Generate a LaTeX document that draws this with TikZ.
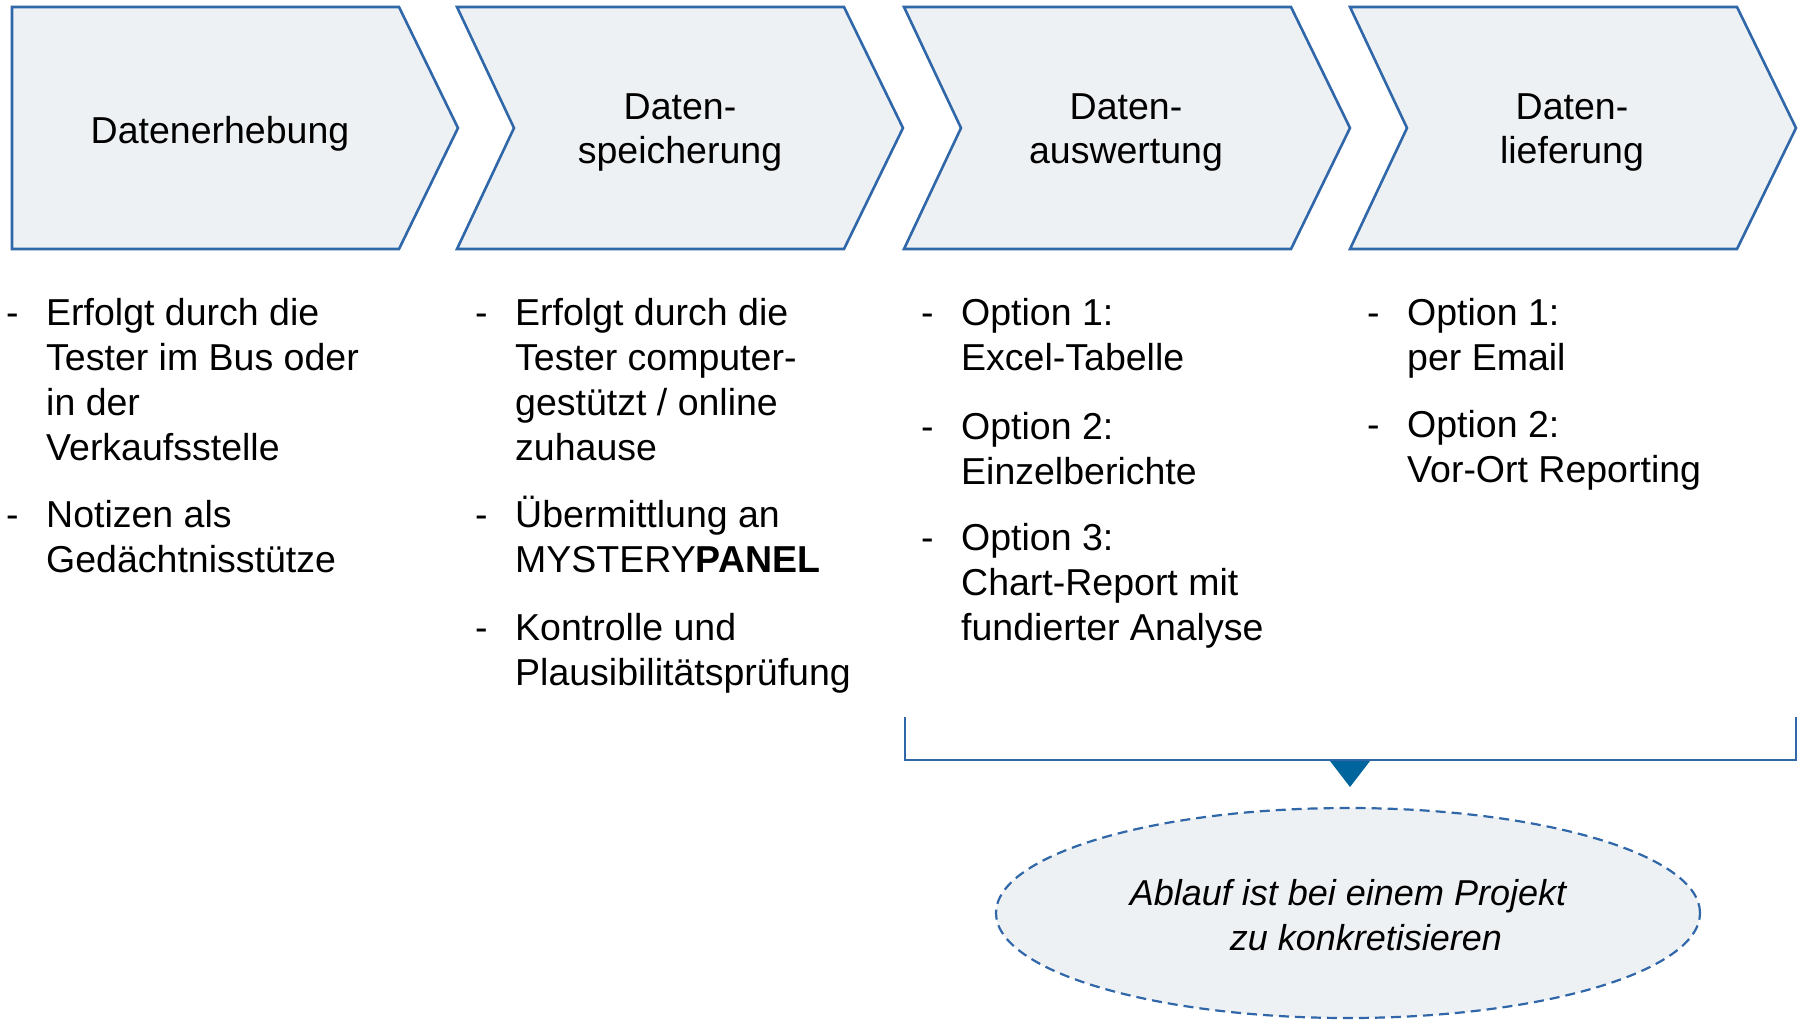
\documentclass[tikz,border=0pt]{standalone}
\usepackage{fontspec}
\setmainfont{Liberation Sans}
\usetikzlibrary{shapes.geometric,calc}
\definecolor{chevblue}{HTML}{2F67A8}
\definecolor{chevfill}{HTML}{EEF1F3}
\definecolor{tricol}{HTML}{00659C}
\newcommand{\itembox}[1]{\parbox[t]{420pt}{\raggedright\fontsize{37.5}{45}\selectfont #1\par}}
\newcommand{\ttlbox}[1]{\parbox[t]{330pt}{\centering\fontsize{37.5}{44}\selectfont #1\par}}
\tikzset{
  chev/.style={draw=chevblue, fill=chevfill, line width=2.6pt, line join=miter},
  body/.style={inner sep=0pt, anchor=base west},
  dashitem/.style={inner sep=0pt, anchor=base west, font=\fontsize{37.5}{45}\selectfont},
  ttl/.style={inner sep=0pt, anchor=base},
  bracketline/.style={draw=chevblue, line width=2.4pt},
  ell/.style={ellipse, draw=chevblue, fill=chevfill, line width=2.2pt, dash pattern=on 10pt off 6pt, minimum width=704pt, minimum height=210pt, inner sep=0pt},
  elltext/.style={inner sep=0pt, anchor=base, font=\fontsize{36}{45}\selectfont\itshape},
}
\begin{document}
\begin{tikzpicture}[x=1pt,y=-1pt]
\useasboundingbox (0,0) rectangle (1805,1020);
% chevrons
\draw[chev] (12,7) -- (399,7) -- (458,128) -- (399,249) -- (12,249) -- cycle;
\draw[chev] (457,7) -- (844,7) -- (903,128) -- (844,249) -- (457,249) -- (514,128) -- cycle;
\draw[chev] (904,7) -- (1291,7) -- (1350,128) -- (1291,249) -- (904,249) -- (961,128) -- cycle;
\draw[chev] (1350,7) -- (1737,7) -- (1796,128) -- (1737,249) -- (1350,249) -- (1407,128) -- cycle;
% titles
\node[ttl] (t1) at (220,143) {\ttlbox{Datenerhebung}};
\node[ttl] (t2) at (680,119) {\ttlbox{Daten-\\speicherung}};
\node[ttl] (t3) at (1126,119) {\ttlbox{Daten-\\auswertung}};
\node[ttl] (t4) at (1572,119) {\ttlbox{Daten-\\lieferung}};
% column 1
\node[dashitem] (d11) at (6,325) {-};
\node[body] (i11) at (46,325) {\itembox{Erfolgt durch die\\Tester im Bus oder\\in der\\Verkaufsstelle}};
\node[dashitem] (d12) at (6,527) {-};
\node[body] (i12) at (46,527) {\itembox{Notizen als\\Gedächtnisstütze}};
% column 2
\node[dashitem] (d21) at (475,325) {-};
\node[body] (i21) at (515,325) {\itembox{Erfolgt durch die\\Tester computer-\\gestützt / online\\zuhause}};
\node[dashitem] (d22) at (475,527) {-};
\node[body] (i22) at (515,527) {\itembox{Übermittlung an\\MYSTERY\textbf{PANEL}}};
\node[dashitem] (d23) at (475,640) {-};
\node[body] (i23) at (515,640) {\itembox{Kontrolle und\\Plausibilitätsprüfung}};
% column 3
\node[dashitem] (d31) at (921,325) {-};
\node[body] (i31) at (961,325) {\itembox{Option 1:\\Excel-Tabelle}};
\node[dashitem] (d32) at (921,439) {-};
\node[body] (i32) at (961,439) {\itembox{Option 2:\\Einzelberichte}};
\node[dashitem] (d33) at (921,550) {-};
\node[body] (i33) at (961,550) {\itembox{Option 3:\\Chart-Report mit\\fundierter Analyse}};
% column 4
\node[dashitem] (d41) at (1367,325) {-};
\node[body] (i41) at (1407,325) {\itembox{Option 1:\\per Email}};
\node[dashitem] (d42) at (1367,437) {-};
\node[body] (i42) at (1407,437) {\itembox{Option 2:\\Vor-Ort Reporting}};
% bracket
\coordinate (bl) at (905,717);
\coordinate (br) at (1796,717);
\coordinate (bm) at (1350,760);
\draw[bracketline] (bl) -- (bl |- bm) -- (br |- bm) -- (br);
\fill[tricol] ($(bm)+(-20,1)$) -- ($(bm)+(20,1)$) -- ($(bm)+(0,27)$) -- cycle;
% ellipse
\node[ell] (ellipse) at (1348,913) {};
\node[elltext] (e1) at (1348,905) {Ablauf ist bei einem Projekt};
\node[elltext] (e2) at (1366,950) {zu konkretisieren};
\end{tikzpicture}
\end{document}
